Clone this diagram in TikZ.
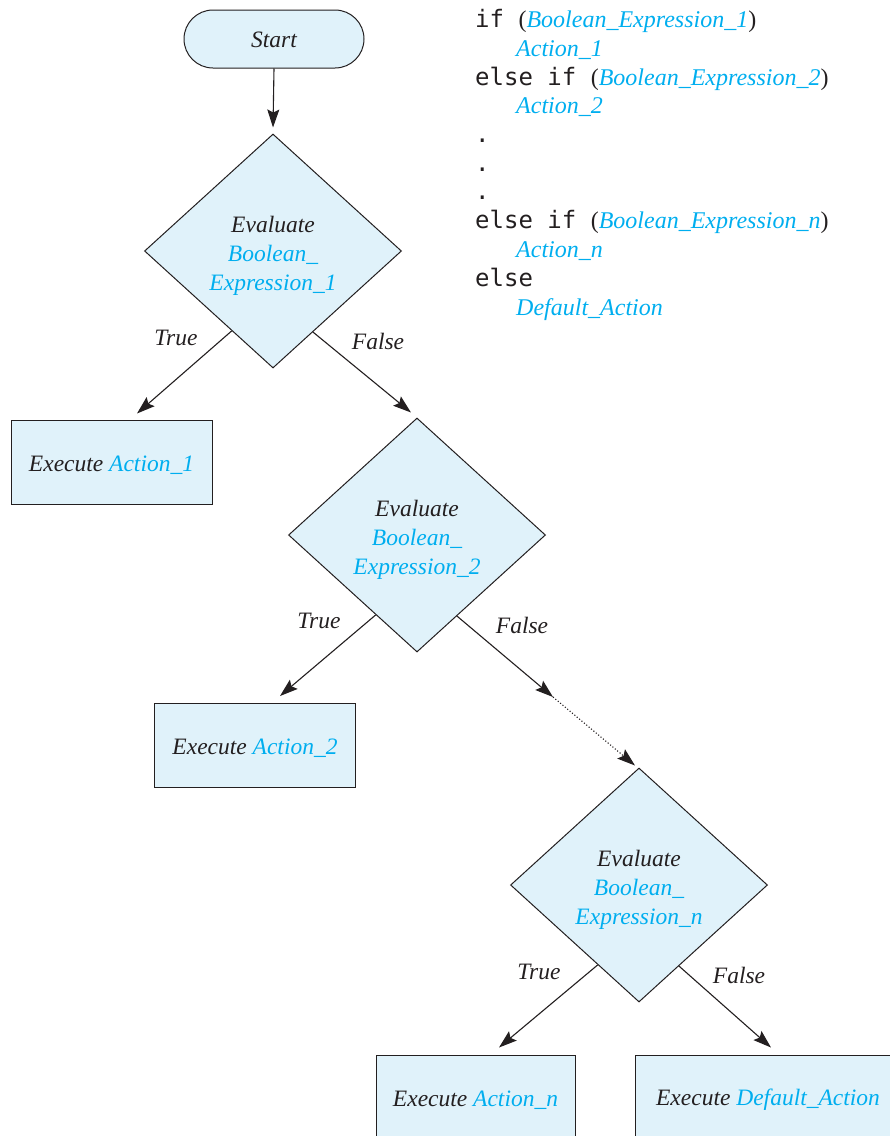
\documentclass[tikz,border=0pt]{standalone}
\usepackage{fontspec}
\setmainfont{Liberation Serif}[ItalicFont={Liberation Serif Italic}]
\setmonofont{DejaVu Sans Mono}
\usetikzlibrary{shapes.geometric,arrows.meta,calc}
\definecolor{boxfill}{RGB}{224,242,250}
\definecolor{cyanink}{RGB}{0,174,239}
\definecolor{ink}{RGB}{35,31,32}
\newcommand{\bl}[1]{\textcolor{cyanink}{#1}}
\newcommand{\ser}[1]{{\rmfamily\upshape #1}}
\newcommand{\bli}[1]{{\rmfamily\itshape\color{cyanink}#1}}
\newcommand{\dtext}[1]{\raisebox{-5pt}[\height][\depth]{\begin{tabular}{@{}c@{}}#1\end{tabular}}}
\newcommand{\btext}[1]{\raisebox{-3pt}[\height][\depth]{#1}}
\begin{document}
\begin{tikzpicture}[x=1pt,y=-1pt,
  base/.style={font=\fontsize{23.5}{29}\selectfont\rmfamily\itshape, text=ink},
  proc/.style={base, draw=ink, fill=boxfill, line width=1pt, rectangle,
    minimum width=201pt, minimum height=84pt, inner sep=0pt},
  decision/.style={base, draw=ink, fill=boxfill, line width=1pt, diamond,
    minimum width=257pt, minimum height=234pt, inner sep=0pt},
  term/.style={base, draw=ink, fill=boxfill, line width=1pt, rectangle,
    rounded corners=29pt, minimum width=180pt, minimum height=58pt, inner sep=0pt},
  flow/.style={draw=ink, line width=1.1pt, -{Stealth[length=18pt,width=12pt,inset=3pt]}},
  lbl/.style={base, inner sep=0pt},
  code/.style={font=\fontsize{24}{29}\selectfont\ttfamily, text=ink, anchor=base west, inner sep=0pt}
]
\useasboundingbox (0,0) rectangle (890,1136);
\clip (0,0) rectangle (890,1136);

% nodes
\node[term] (start) at (274,39) {\raisebox{-1pt}[\height][\depth]{Start}};
\node[decision] (d1) at (273,251) {\dtext{Evaluate\\\bl{Boolean\_}\\\bl{Expression\_1}}};
\node[proc] (b1) at (111.5,462) {\btext{Execute \bl{Action\_1}}};
\node[decision] (d2) at (417,535) {\dtext{Evaluate\\\bl{Boolean\_}\\\bl{Expression\_2}}};
\node[proc] (b2) at (255,745.5) {\btext{Execute \bl{Action\_2}}};
\node[decision] (dn) at (639,885) {\dtext{Evaluate\\\bl{Boolean\_}\\\bl{Expression\_n}}};
\node[proc, minimum width=199pt] (bn) at (475.5,1097) {\btext{Execute \bl{Action\_n}}};
\node[proc, minimum width=266pt] (bd) at (768,1097) {\btext{Execute \bl{Default\_Action}}};

% labels
\node[lbl] (t1) at ($(d1)+(-97,87)$) {True};
\node[lbl] (f1) at ($(d1)+(105,90)$) {False};
\node[lbl] (t2) at ($(d2)+(-98,86)$) {True};
\node[lbl] (f2) at ($(d2)+(105,90)$) {False};
\node[lbl] (tn) at ($(dn)+(-100,87)$) {True};
\node[lbl] (fn) at ($(dn)+(100,90)$) {False};

% connectors
\draw[flow] (start.south) -- ($(d1.north)+(0,-6)$);
\draw[flow] ($(d1.west)!0.68!(d1.south)$) -- ($(b1.north)+(25.5,-6)$);
\draw[flow] ($(d1.east)!0.69!(d1.south)$) -- ($(d2.north)+(-6,-5)$);
\draw[flow] ($(d2.west)!0.68!(d2.south)$) -- ($(b2.north)+(25,-7)$);
\coordinate (m) at ($(d2)+(136,162)$);
\draw[flow] ($(d2.east)!0.69!(d2.south)$) -- (m);
\draw[flow, dotted] (m) -- ($(dn.north)+(-4,-2)$);
\draw[flow] ($(dn.west)!0.68!(dn.south)$) -- ($(bn.north)+(23.5,-7)$);
\draw[flow] ($(dn.east)!0.69!(dn.south)$) -- ($(bd.north)+(3,-7)$);

% code
\node[code] (c1) at (475,27) {if \ser{(}\bli{Boolean\_Expression\_1}\ser{)}};
\node[code] (c2) at (516,56) {\bli{Action\_1}};
\node[code] (c3) at (475,85) {else if \ser{(}\bli{Boolean\_Expression\_2}\ser{)}};
\node[code] (c4) at (516,113) {\bli{Action\_2}};
\node[code] (c5) at (475,142) {.};
\node[code] (c6) at (475,171) {.};
\node[code] (c7) at (475,199) {.};
\node[code] (c8) at (475,228) {else if \ser{(}\bli{Boolean\_Expression\_n}\ser{)}};
\node[code] (c9) at (516,257) {\bli{Action\_n}};
\node[code] (c10) at (475,286) {else};
\node[code] (c11) at (516,315) {\bli{Default\_Action}};
\end{tikzpicture}
\end{document}
